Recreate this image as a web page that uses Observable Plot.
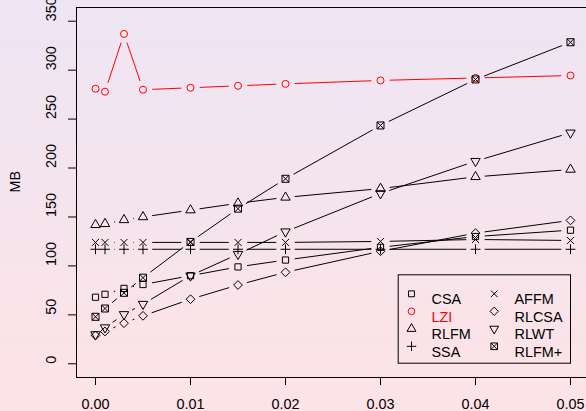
<!DOCTYPE html>
<html><head><meta charset="utf-8">
<script src="https://cdn.jsdelivr.net/npm/d3@7"></script>
<script src="https://cdn.jsdelivr.net/npm/@observablehq/plot@0.6"></script>
<style>
html,body{margin:0;padding:0;}
body{width:586px;height:411px;overflow:hidden;background:linear-gradient(#ede5f3,#fde3e6);}
</style></head><body><div id="chart"></div>
<script>
// ---- data ----
const xs = [0, 0.001, 0.003, 0.005, 0.01, 0.015, 0.02, 0.03, 0.04, 0.05];
const seriesNames = ["CSA", "LZI", "RLFM", "SSA", "AFFM", "RLCSA", "RLWT", "RLFM+"];
const csa   = [68, 71, 77, 81, 90, 99, 106, 119, 130, 136.5];
const lzi   = [281, 278, 337, 280, 282, 284, 286, 289.5, 292, 294.5];
const rlfm  = [142, 143, 147, 150, 157, 164, 170, 179, 191, 198.5];
const ssa   = [117, 117, 117, 117, 117, 117, 117, 117, 117, 117];
const affm  = [124, 124, 124, 124, 124, 124, 124, 125, 127, 126];
const rlcsa = [29, 33, 41.5, 49, 66, 80.5, 93.5, 115, 133.5, 146.5];
const rlwt  = [30, 37, 50.5, 61, 90, 112, 135, 174, 207, 236];
const rlfmp = [48, 56.5, 72.5, 88, 124.5, 158.5, 189, 243.5, 290.5, 328.5];
const xTicks = [0, 0.01, 0.02, 0.03, 0.04, 0.05];
const yTicks = [0, 50, 100, 150, 200, 250, 300, 350];

const seriesValues = [csa, lzi, rlfm, ssa, affm, rlcsa, rlwt, rlfmp];
const seriesColors = ["#000000", "#ff0000", "#000000", "#000000", "#000000", "#000000", "#000000", "#000000"];

// ---- R-like pch symbols ----
function rad(size) { return Math.sqrt(size / Math.PI); }
const symSquare = {draw(c, s) { const r = rad(s) * 0.886; c.rect(-r, -r, 2 * r, 2 * r); }};
const symCircle = {draw(c, s) { const r = rad(s); c.moveTo(r, 0); c.arc(0, 0, r, 0, 2 * Math.PI); }};
const symTriUp = {draw(c, s) { const r = rad(s); c.moveTo(0, -1.555 * r); c.lineTo(1.347 * r, 0.778 * r); c.lineTo(-1.347 * r, 0.778 * r); c.closePath(); }};
const symPlus = {draw(c, s) { const r = rad(s) * 1.414; c.moveTo(-r, 0); c.lineTo(r, 0); c.moveTo(0, -r); c.lineTo(0, r); }};
const symTimes = {draw(c, s) { const r = rad(s); c.moveTo(-r, -r); c.lineTo(r, r); c.moveTo(-r, r); c.lineTo(r, -r); }};
const symDiamond = {draw(c, s) { const r = rad(s) * 1.253; c.moveTo(0, -r); c.lineTo(r, 0); c.lineTo(0, r); c.lineTo(-r, 0); c.closePath(); }};
const symTriDown = {draw(c, s) { const r = rad(s); c.moveTo(0, 1.555 * r); c.lineTo(1.347 * r, -0.778 * r); c.lineTo(-1.347 * r, -0.778 * r); c.closePath(); }};
const symBoxX = {draw(c, s) { const r = rad(s); c.rect(-r, -r, 2 * r, 2 * r); c.moveTo(-r, -r); c.lineTo(r, r); c.moveTo(-r, r); c.lineTo(r, -r); }};
const seriesSymbols = [symSquare, symCircle, symTriUp, symPlus, symTimes, symDiamond, symTriDown, symBoxX];

const R0 = 3.5;
const FONT = 14.4;
const xDomain = [-0.002, -0.002 + 510 / 9500];
const yDomain = [-14, 364];

const marks = [];
// frame (left, top, bottom)
marks.push(Plot.ruleX([xDomain[0]], {stroke: "#000", strokeWidth: 1}));
marks.push(Plot.ruleY(yDomain, {stroke: "#000", strokeWidth: 1}));

// series: type = "b" (gapped lines + points)
seriesNames.forEach((name, k) => {
  const vals = seriesValues[k];
  const pts = xs.map((x, i) => ({x, y: vals[i]}));
  const segs = pts.slice(1).map((p, i) => ({x1: pts[i].x, y1: pts[i].y, x2: p.x, y2: p.y}));
  marks.push(Plot.arrow(segs, {x1: "x1", y1: "y1", x2: "x2", y2: "y2", bend: 0, headLength: 0,
    inset: 9.2, stroke: seriesColors[k], strokeWidth: 1, strokeLinecap: "butt"}));
  marks.push(Plot.dot(pts, {x: "x", y: "y", r: R0, symbol: seriesSymbols[k], fill: "none",
    stroke: seriesColors[k], strokeWidth: 1}));
});

// axes
marks.push(Plot.axisX({ticks: xTicks, tickSize: 8, tickPadding: 13, tickFormat: d3.format(".2f"),
  fontSize: FONT, label: null, stroke: "#000"}));
marks.push(Plot.axisY({ticks: yTicks, tickSize: 8, tickFormat: () => "", label: null, stroke: "#000"}));
marks.push(Plot.text(yTicks, {y: d => d, text: d => String(d), frameAnchor: "left", dx: -25.5,
  rotate: -90, fontSize: FONT, fill: "#000"}));
marks.push(Plot.text(["MB"], {text: d => d, frameAnchor: "left", dx: -61, rotate: -90, fontSize: FONT, fill: "#000"}));

// legend (inside, bottom right)
marks.push(Plot.frame({stroke: "#000", strokeWidth: 1, insetLeft: 321.7, insetRight: 16, insetTop: 267.3, insetBottom: 14.3}));
seriesNames.forEach((name, k) => {
  const col = k < 4 ? 0 : 1, row = k % 4;
  const sx = col === 0 ? 411 : 493.7;
  const tx = col === 0 ? 431 : 514;
  const py = 293.3 + 17.5 * row;
  marks.push(Plot.dot([name], {frameAnchor: "top-left", dx: sx - 76, dy: py - 7, r: R0 * 0.95,
    symbol: seriesSymbols[k], fill: "none", stroke: seriesColors[k], strokeWidth: 1}));
  marks.push(Plot.text([name], {text: d => d, frameAnchor: "top-left", dx: tx - 76, dy: py - 7,
    textAnchor: "start", fontSize: FONT, fill: seriesColors[k]}));
});

const chart = Plot.plot({
  width: 586, height: 411,
  marginLeft: 76, marginRight: 0, marginTop: 7, marginBottom: 34,
  x: {domain: xDomain},
  y: {domain: yDomain},
  style: {background: "transparent", fontFamily: "'Liberation Sans', Arial, Helvetica, sans-serif", fontSize: FONT + "px", color: "#000"},
  marks
});
document.getElementById("chart").appendChild(chart);
</script></body></html>
